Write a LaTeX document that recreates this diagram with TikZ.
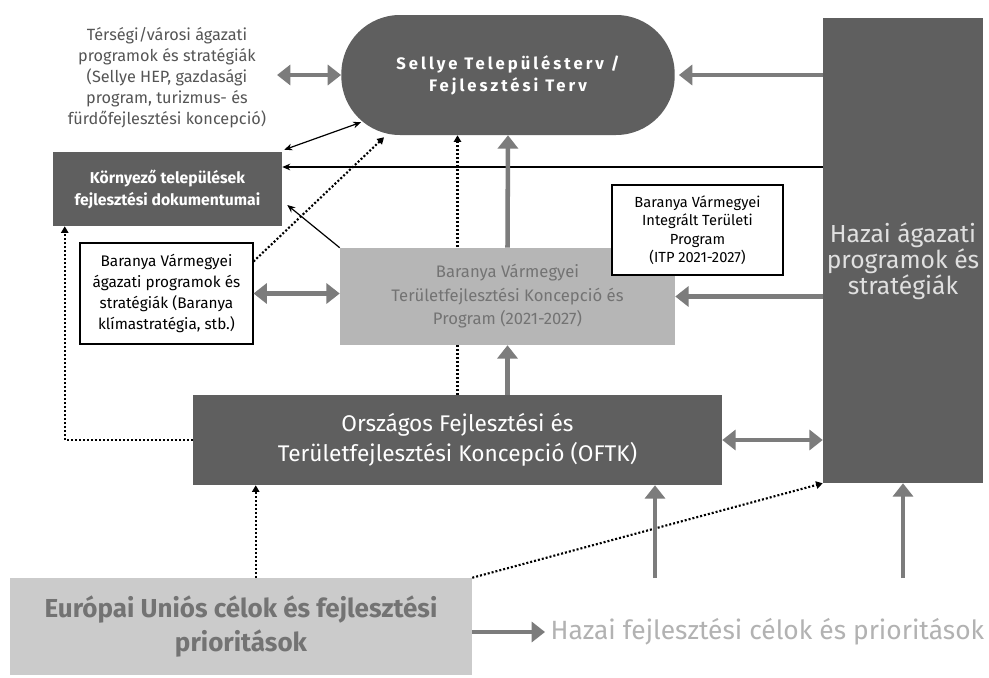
\documentclass[tikz,border=0pt]{standalone}
\usepackage{fontspec}
\setmainfont{Fira Sans}
\usepackage{xcolor}
\usetikzlibrary{arrows.meta, positioning, backgrounds}

\definecolor{boxdark}{HTML}{5F5F5F}
\definecolor{boxlight}{HTML}{B6B6B6}
\definecolor{boxeu}{HTML}{CBCBCB}
\definecolor{arrowgray}{HTML}{7C7C7C}
\definecolor{textgray}{HTML}{555555}
\definecolor{textlight}{HTML}{B2B2B2}

\begin{document}
\begin{tikzpicture}[
    x=0.75pt, y=-0.75pt,
    font=\fontsize{11.5}{15.5}\selectfont,
    base/.style={align=center, inner sep=2pt},
    darkbox/.style={base, fill=boxdark, text=white},
    whitebox/.style={base, draw=black, fill=white, line width=0.8pt},
    thick_arrow/.style={-{Triangle[width=15pt,length=10pt]}, line width=3.4pt, draw=arrowgray},
    thick_double/.style={{Triangle[width=15pt,length=10pt]}-{Triangle[width=15pt,length=10pt]}, line width=3.4pt, draw=arrowgray},
    thin_arrow/.style={{Stealth[length=6pt,width=5pt]}-{Stealth[length=6pt,width=5pt]}, line width=0.9pt},
    dotted_arrow/.style={-{Triangle[length=5pt,width=5.5pt]}, line width=1.6pt, dash pattern=on 1.5pt off 1.5pt}
]
\useasboundingbox (0,0) rectangle (989,678);

% Top row
\node[darkbox, rounded corners=44pt, minimum width=250pt, minimum height=90pt,
      font=\bfseries\fontsize{12.5}{16.5}\selectfont\addfontfeatures{LetterSpace=18}] (sellye) at (508,75)
      {Sellye Településterv /\\Fejlesztési Terv};
\node[base, text=textgray, font=\fontsize{12.2}{15.75}\selectfont] (tersegi) at (167,78)
      {Térségi/városi ágazati\\programok és stratégiák\\(Sellye HEP, gazdasági\\program, turizmus- és\\fürdőfejlesztési koncepció)};
\node[darkbox, minimum width=120pt, minimum height=348.75pt,
      label={[yshift=-8pt, align=center, text=white!88!black, font=\fontsize{18.5}{18.4}\selectfont]center:Hazai ágazati\\programok és\\stratégiák}] (hazai) at (903,250.5) {};

% Middle rows
\node[darkbox, minimum width=171.75pt, minimum height=55.5pt,
      font=\bfseries\fontsize{11.8}{16.5}\selectfont] (kornyezo) at (167.5,189)
      {Környező települések\\fejlesztési dokumentumai};
\node[whitebox, minimum width=129.75pt, minimum height=75.75pt,
      font=\fontsize{11.5}{15.75}\selectfont] (bvagazati) at (166.5,293.5)
      {Baranya Vármegyei\\ágazati programok és\\stratégiák (Baranya\\klímastratégia, stb.)};
\node[base, fill=boxlight, text=black!55, minimum width=251.25pt, minimum height=72.75pt,
      font=\fontsize{12.5}{17.6}\selectfont] (bvtfk) at (507.5,296.5)
      {Baranya Vármegyei\\Területfejlesztési Koncepció és\\Program (2021-2027)};
\node[whitebox, minimum width=128.25pt, minimum height=67.5pt,
      font=\fontsize{11}{13.8}\selectfont] (itp) at (697.5,230)
      {Baranya Vármegyei\\Integrált Területi\\Program\\(ITP 2021-2027)};
\node[darkbox, minimum width=396.75pt, minimum height=67.5pt,
      font=\fontsize{17}{22.5}\selectfont] (oftk) at (457.5,440)
      {Országos Fejlesztési és\\Területfejlesztési Koncepció (OFTK)};

% Bottom row
\node[base, fill=boxeu, text=black!55, minimum width=346.5pt, minimum height=72.75pt,
      font=\bfseries\fontsize{19.5}{26}\selectfont] (eu) at (241,626.5)
      {Európai Uniós célok és fejlesztési\\prioritások};
\node[base, text=textlight, anchor=west, inner sep=4pt,
      font=\fontsize{19.8}{22}\selectfont] (hazaicel) at (545,632)
      {Hazai fejlesztési célok és prioritások};

\coordinate (k1) at ([shift={(0,-22)}]kornyezo.east);
\coordinate (e1) at ([shift={(63,0)}]oftk.south west);
\coordinate (h1) at (655,578);
\coordinate (h2) at (903,578);

\begin{scope}[on background layer]
    \fill[white] (0,0) rectangle (989,678);
    \draw[dotted_arrow] (oftk.north) -- (oftk.north |- sellye.south);
\end{scope}

% Connections
\draw[thick_double] ([xshift=6pt]tersegi.east |- sellye.west) -- (sellye.west);
\draw[thick_arrow] (hazai.west |- sellye.east) -- ([xshift=3pt]sellye.east);
\draw[thin_arrow] ([shift={(2,-2)}]kornyezo.north east) -- ([shift={(20,-13)}]sellye.south west);
\draw[thin_arrow, {Stealth[length=6pt,width=5pt]}-] (k1) -- (k1 -| hazai.west);
\draw[thin_arrow, {Stealth[length=6pt,width=5pt]}-] ([shift={(5,16)}]kornyezo.east) -- (bvtfk.north west);
\draw[dotted_arrow] ([shift={(0,19)}]bvagazati.north east) -- ([shift={(43,2)}]sellye.south west);

\draw[thick_arrow] (bvtfk.north) -- (sellye.south);
\draw[thick_arrow] (oftk.north -| bvtfk.south) -- (bvtfk.south);
\draw[thick_arrow] (hazai.west |- bvtfk.east) -- (bvtfk.east);
\draw[thick_double] (bvagazati.east) -- (bvagazati.east -| bvtfk.west);
\draw[thick_double] (oftk.east) -- (oftk.east -| hazai.west);

\draw[dotted_arrow] (oftk.west) -| ([shift={(12,0)}]kornyezo.south west);
\draw[dotted_arrow] (e1 |- eu.north) -- (e1);
\draw[dotted_arrow] (eu.north east) -- (hazai.south west);

\draw[thick_arrow] (h1) -- (h1 |- oftk.south);
\draw[thick_arrow] (h2) -- (hazai.south);
\draw[thick_arrow] (eu.east |- hazaicel.west) -- (hazaicel.west);

\end{tikzpicture}
\end{document}
